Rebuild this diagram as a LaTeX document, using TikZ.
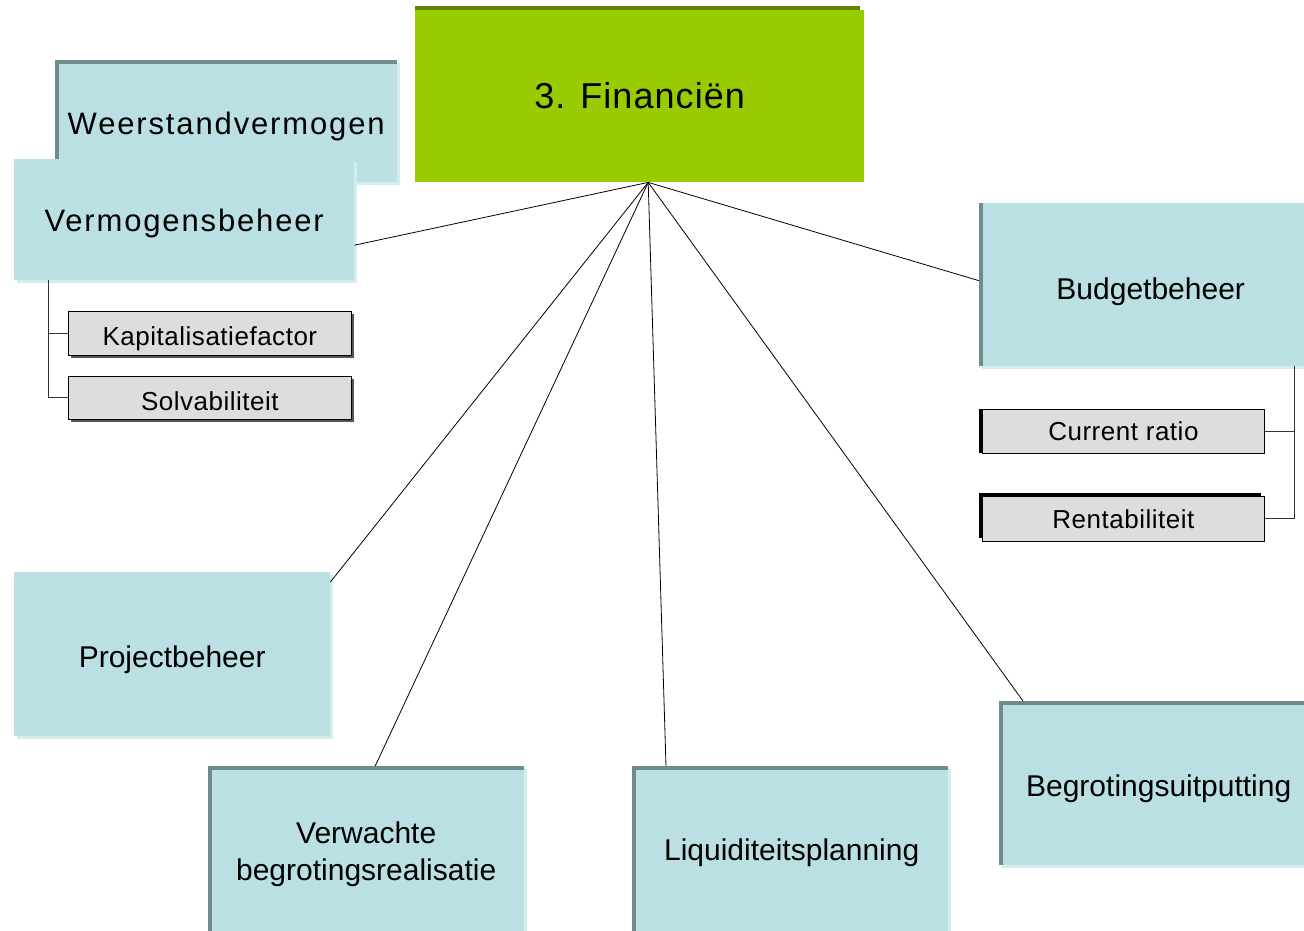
\documentclass[tikz,border=0pt]{standalone}
\usepackage{fontspec}
\setmainfont{Liberation Sans}
\usetikzlibrary{shadows}
\definecolor{tealfill}{HTML}{BBE0E3}
\definecolor{tealedge}{HTML}{708B8E}
\definecolor{tealshade}{HTML}{D4ECEE}
\definecolor{greenfill}{HTML}{99CC00}
\definecolor{greenedge}{HTML}{668000}
\definecolor{grayfill}{HTML}{DDDDDD}
\definecolor{grayshade}{HTML}{555555}
\newcommand{\lowr}[2][6pt]{\raisebox{-#1}[\height][\depth]{#2}}
\begin{document}
\begin{tikzpicture}[x=1pt,y=-1pt,
  tealbox/.style={fill=tealfill, draw=none, inner sep=0pt, anchor=north west, align=center,
    font=\fontsize{30}{37}\selectfont,
    drop shadow={shadow xshift=3pt, shadow yshift=-3pt, fill=tealshade, opacity=1}},
  darkleft/.style={path picture={\fill[tealedge] (path picture bounding box.north west) rectangle ([xshift=3.5pt]path picture bounding box.south west);}},
  darkboth/.style={path picture={\fill[tealedge] (path picture bounding box.north west) rectangle ([yshift=-4pt]path picture bounding box.north east);
     \fill[tealedge] (path picture bounding box.north west) rectangle ([xshift=3.5pt]path picture bounding box.south west);}},
  graybox/.style={fill=grayfill, draw=black, line width=0.8pt, inner sep=0pt, anchor=north west,
    font=\fontsize{26}{30}\selectfont\addfontfeatures{LetterSpace=2}},
  spoke/.style={draw=black, line width=0.8pt},
  branch/.style={draw=black!80, line width=0.9pt}
]
\useasboundingbox (0,0) rectangle (1304,931);

% central box
\fill[greenedge] (415,6) rectangle (860,10);
\node[fill=greenfill, inner sep=0pt, anchor=north west, minimum width=449pt, minimum height=172pt,
  font=\fontsize{36}{40}\selectfont\addfontfeatures{LetterSpace=3}] (fin) at (415,10) {\lowr[-1pt]{3. Financiën}};
\coordinate (hub) at ([xshift=8.5pt]fin.south);

% left upper boxes
\node[tealbox, darkboth, minimum width=342pt, minimum height=122pt,
  font=\fontsize{31}{37}\selectfont\addfontfeatures{LetterSpace=6}] (weer) at (55,60) {\lowr[5pt]{Weerstandvermogen}};
\node[tealbox, minimum width=340pt, minimum height=121pt,
  font=\fontsize{31}{37}\selectfont\addfontfeatures{LetterSpace=6}] (verm) at (14,159) {\lowr[4pt]{Vermogensbeheer}};

\node[graybox, minimum width=283pt, minimum height=44pt,
  drop shadow={shadow xshift=3pt, shadow yshift=-3pt, fill=grayshade, opacity=1}] (kap) at (68,311) {\lowr[5pt]{Kapitalisatiefactor}};
\node[graybox, minimum width=283pt, minimum height=43pt,
  drop shadow={shadow xshift=3pt, shadow yshift=-3pt, fill=grayshade, opacity=1}] (solv) at (68,376) {\lowr[3pt]{Solvabiliteit}};

% right boxes
\node[tealbox, darkleft, minimum width=325pt, minimum height=163pt] (budget) at (979,203) {\lowr[7pt]{\hspace*{18pt}Budgetbeheer}};
\node[graybox, minimum width=282pt, minimum height=44pt,
  drop shadow={shadow xshift=-3pt, shadow yshift=0pt, fill=black, opacity=1}] (cur) at (982,409) {Current ratio};
\node[graybox, minimum width=282pt, minimum height=45pt,
  drop shadow={shadow xshift=-3pt, shadow yshift=3pt, fill=black, opacity=1}] (rent) at (982,496) {Rentabiliteit};

% lower boxes
\node[tealbox, minimum width=316pt, minimum height=164pt] (proj) at (14,572) {\lowr{Projectbeheer}};
\node[tealbox, darkboth, minimum width=316pt, minimum height=165pt] (verw) at (208,766)
  {\lowr{\begin{tabular}{@{}c@{}}Verwachte\\begrotingsrealisatie\end{tabular}}};
\node[tealbox, darkboth, minimum width=316pt, minimum height=165pt] (liq) at (632,766) {\lowr[4pt]{\hspace*{3pt}Liquiditeitsplanning}};
\node[tealbox, darkboth, minimum width=305pt, minimum height=164pt] (begr) at (999,701) {\lowr{\hspace*{14pt}Begrotingsuitputting}};

% spokes
\draw[spoke] (hub) -- ([yshift=-25.5pt]verm.east);
\draw[spoke] (hub) -- ([yshift=4pt]budget.west);
\draw[spoke] (hub) -- ([yshift=-10pt]proj.north east);
\draw[spoke] (hub) -- ([xshift=9pt]verw.north);
\draw[spoke] (hub) -- ([xshift=34pt]liq.north west);
\draw[spoke] (hub) -- ([xshift=24pt]begr.north west);

% branches
\coordinate (vb) at ([xshift=34pt]verm.south west);
\draw[branch] (vb) |- (kap.west);
\draw[branch] (vb) |- (solv.west);
\coordinate (bb) at ([xshift=-10pt]budget.south east);
\draw[branch] (bb) |- (cur.east);
\draw[branch] (bb) |- (rent.east);
\end{tikzpicture}
\end{document}
